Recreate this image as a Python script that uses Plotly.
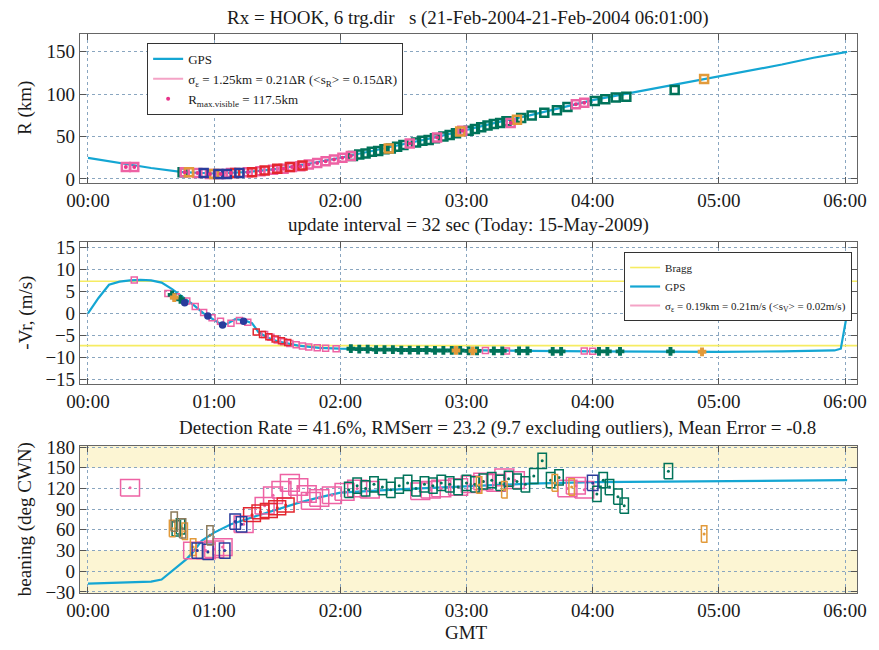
import plotly.graph_objects as go

# ---------------- data ----------------
HOUR_TICKS = [0, 60, 120, 180, 240, 300, 360]
HOUR_LABELS = ["00:00", "01:00", "02:00", "03:00", "04:00", "05:00", "06:00"]

# GPS tracks (time in minutes after 00:00)
GPS_T_R = [0, 15, 30, 45, 55, 60, 75, 90, 105, 120, 135, 150, 165, 180, 195, 210, 225, 240, 255, 270, 285, 300, 315, 330, 345, 361]
GPS_R = [25, 19, 13, 8, 6.5, 6.5, 8, 12, 18, 25, 33, 41, 49, 58, 67, 75, 84, 93, 100, 107, 114, 121, 128, 135, 143, 150]

GPS_T_V = [0, 5, 10, 15, 20, 25, 30, 35, 40, 45, 50, 55, 60, 63, 66, 70, 74, 78, 81, 85, 90, 100, 110, 120, 150, 180, 210, 240, 270, 300, 330, 355, 358, 361]
GPS_V = [0, 3.5, 6.5, 7.2, 7.5, 7.6, 7.5, 7.0, 5.5, 3.8, 2.0, 0, -1.5, -2.4, -2.4, -1.3, -1.5, -2.2, -4.2, -5.4, -6.3, -7.3, -7.8, -8.0, -8.2, -8.4, -8.5, -8.6, -8.7, -8.7, -8.6, -8.4, -8.0, 0]

GPS_T_B = [0, 15, 30, 35, 40, 43, 47, 50, 54, 60, 68, 80, 90, 100, 110, 120, 150, 180, 210, 240, 300, 361]
GPS_B = [-18, -16, -15, -12, 0, 8, 18, 28, 44, 56, 68, 80, 90, 99, 107, 114, 119, 123, 127, 129, 131, 132]

BRAGG = 7.3

# Range detections
R_PINK_T = [18, 22, 46, 52, 58, 63, 68, 76, 82, 88, 93, 97, 101, 105, 109, 113, 117, 121, 125, 153, 166, 178, 201, 232, 236]
R_PINK = [14, 14, 8, 7, 6, 6, 7, 8, 9, 11, 12, 14, 15, 17, 19, 21, 23, 25, 27, 42, 49, 57, 66, 88, 90]
R_RED_T = [70, 78, 84, 90, 96, 102]
R_RED = [7, 8, 10, 12, 14, 16]
R_GREEN_T = [45, 126, 129, 132, 135, 138, 141, 144, 147, 150, 156, 159, 162, 165, 169, 172, 175, 181, 184, 187, 190, 193, 196, 199, 206, 211, 217, 223, 228, 241, 246, 251, 256, 279]
R_GREEN = [8, 27, 29, 30, 32, 33, 35, 36, 38, 40, 43, 45, 46, 48, 50, 52, 54, 57, 59, 61, 63, 65, 66, 68, 72, 75, 78, 81, 85, 92, 94, 96, 97, 105]
R_ORANGE_T = [48, 60, 143, 177, 204, 293]
R_ORANGE = [8, 6, 36, 56, 70, 118]
R_BLUE_T = [55, 62, 66, 72]
R_BLUE = [7, 6, 6, 7]

# Velocity detections
V_PINK_T = [22, 38, 42, 47, 51, 55, 59, 63, 68, 72, 76, 84, 87, 90, 93, 96, 99, 102, 105, 109, 113, 118, 189, 199, 236, 240]
V_PINK = [7.6, 4.5, 3.8, 2.8, 1.6, 0.2, -1.0, -1.8, -2.2, -1.6, -2.0, -4.8, -5.4, -6.0, -6.4, -6.8, -7.1, -7.4, -7.6, -7.8, -7.9, -8.0, -8.4, -8.5, -8.5, -8.6]
V_RED_T = [80, 83, 86, 89, 92, 95]
V_RED = [-4.2, -4.8, -5.3, -5.8, -6.2, -6.6]
V_GREEN_T = [40, 44, 125, 129, 133, 137, 141, 145, 149, 153, 157, 161, 165, 169, 173, 177, 181, 185, 193, 197, 205, 209, 221, 225, 243, 247, 253, 277]
V_GREEN = [4.2, 3.2, -8.0, -8.1, -8.1, -8.2, -8.2, -8.2, -8.3, -8.3, -8.3, -8.3, -8.4, -8.4, -8.4, -8.4, -8.5, -8.5, -8.5, -8.5, -8.5, -8.5, -8.6, -8.6, -8.6, -8.6, -8.6, -8.6]
V_ORANGE_T = [41, 175, 183, 292]
V_ORANGE = [3.6, -8.4, -8.5, -8.7]
V_BLUE_T = [46, 57, 64, 74]
V_BLUE = [2.4, -0.6, -2.6, -1.8]

# Bearing detections (box centres)
B_PINK_T = [20, 50, 56, 60, 64, 74, 84, 88, 92, 96, 100, 104, 106, 110, 116, 122, 128, 134, 158, 163, 168, 176, 182, 188, 194, 198, 203, 228, 232, 236]
B_PINK = [121, 30, 30, 32, 35, 68, 95, 110, 118, 128, 122, 112, 102, 106, 110, 115, 120, 118, 116, 118, 120, 122, 126, 130, 128, 136, 132, 120, 124, 118]
B_RED_T = [78, 82, 86, 90, 94]
B_RED = [82, 86, 88, 92, 96]
B_GREEN_T = [42, 44, 124, 128, 132, 136, 140, 144, 148, 152, 156, 160, 164, 168, 172, 176, 180, 184, 188, 192, 196, 200, 204, 208, 212, 216, 220, 224, 242, 245, 248, 252, 255, 276]
B_GREEN = [62, 65, 118, 124, 120, 126, 122, 118, 124, 128, 120, 126, 124, 128, 126, 122, 128, 126, 130, 132, 128, 134, 130, 126, 138, 160, 132, 136, 112, 132, 122, 108, 95, 145]
B_ORANGE_T = [40, 46, 50, 186, 198, 222, 230, 293]
B_ORANGE = [62, 58, 35, 125, 118, 128, 122, 54]
B_BLUE_T = [52, 57, 65, 70, 73, 240]
B_BLUE = [30, 28, 30, 72, 68, 128]
B_BROWN_T = [41, 45, 58]
B_BROWN = [72, 62, 52]

# ---------------- style ----------------
FONT = "Liberation Serif"
CYAN = "#14A6D3"
PINK_LINE = "#F4A3C6"
HOTPINK = "#E8348A"
PINK_BOX = "#EE62A4"
RED = "#E3262E"
GREEN = "#00735A"
ORANGE = "#E29A3A"
BLUE = "#2A3C9C"
BROWN = "#8C7A5A"
YELLOW = "#F6EC62"
BAND = "#FCF5D3"
GRID = "#8AA6C0"
XR = [-3.8, 365.7]

fig = go.Figure()


def boxes(ts, bs, dt, db):
    xs, ys = [], []
    for t, b in zip(ts, bs):
        xs += [t - dt, t + dt, t + dt, t - dt, t - dt, None]
        ys += [b - db, b - db, b + db, b + db, b - db, None]
    return xs, ys


# ----- panel 1: range -----
fig.add_trace(go.Scatter(x=GPS_T_R, y=GPS_R, mode="lines", line=dict(color=CYAN, width=2.2),
                         name="GPS", legend="legend", xaxis="x", yaxis="y"))
for ts, vs, col in [(R_GREEN_T, R_GREEN, GREEN), (R_PINK_T, R_PINK, PINK_BOX), (R_RED_T, R_RED, RED),
                    (R_ORANGE_T, R_ORANGE, ORANGE), (R_BLUE_T, R_BLUE, BLUE)]:
    fig.add_trace(go.Scatter(x=ts, y=vs, mode="markers", showlegend=False, xaxis="x", yaxis="y",
                             marker=dict(symbol="square-open", size=8, color=col, line=dict(width=2.5, color=col))))
fig.add_trace(go.Scatter(x=[None], y=[None], mode="lines", line=dict(color=PINK_LINE, width=2),
                         name="σ<sub>ε</sub> = 1.25km = 0.21ΔR (&lt;s<sub>R</sub>&gt; = 0.15ΔR)",
                         legend="legend", xaxis="x", yaxis="y"))
fig.add_trace(go.Scatter(x=R_PINK_T, y=R_PINK, mode="markers", marker=dict(symbol="circle", size=4, color=HOTPINK),
                         name="R<sub>max.visible</sub> = 117.5km", legend="legend", xaxis="x", yaxis="y"))

# ----- panel 2: velocity -----
fig.add_trace(go.Scatter(x=[XR[0], XR[1], None, XR[0], XR[1]], y=[BRAGG, BRAGG, None, -BRAGG, -BRAGG],
                         mode="lines", line=dict(color=YELLOW, width=1.6), name="Bragg",
                         legend="legend2", xaxis="x2", yaxis="y2"))
fig.add_trace(go.Scatter(x=GPS_T_V, y=GPS_V, mode="lines", line=dict(color=CYAN, width=2.2),
                         name="GPS", legend="legend2", xaxis="x2", yaxis="y2"))
for ts, vs, col, sym in [(V_PINK_T, V_PINK, PINK_BOX, "square-open"), (V_RED_T, V_RED, RED, "square-open"),
                         (V_GREEN_T, V_GREEN, GREEN, "cross"), (V_ORANGE_T, V_ORANGE, ORANGE, "cross"),
                         (V_BLUE_T, V_BLUE, BLUE, "circle")]:
    fig.add_trace(go.Scatter(x=ts, y=vs, mode="markers", showlegend=False, xaxis="x2", yaxis="y2",
                             marker=dict(symbol=sym, size=6, color=col, line=dict(width=1.5, color=col))))
fig.add_trace(go.Scatter(x=[None], y=[None], mode="lines", line=dict(color=PINK_LINE, width=2),
                         name="σ<sub>ε</sub> = 0.19km = 0.21m/s (&lt;s<sub>V</sub>&gt; = 0.02m/s)",
                         legend="legend2", xaxis="x2", yaxis="y2"))

# ----- panel 3: bearing -----
fig.add_trace(go.Scatter(x=GPS_T_B, y=GPS_B, mode="lines", line=dict(color=CYAN, width=2.2),
                         showlegend=False, xaxis="x3", yaxis="y3"))
for ts, vs, col, dt, db in [(B_PINK_T, B_PINK, PINK_BOX, 4.5, 12), (B_GREEN_T, B_GREEN, GREEN, 2.0, 11),
                            (B_RED_T, B_RED, RED, 4.0, 10), (B_ORANGE_T, B_ORANGE, ORANGE, 1.3, 12),
                            (B_BLUE_T, B_BLUE, BLUE, 2.5, 11), (B_BROWN_T, B_BROWN, BROWN, 1.5, 14)]:
    xs, ys = boxes(ts, vs, dt, db)
    fig.add_trace(go.Scatter(x=xs, y=ys, mode="lines", line=dict(color=col, width=1.5),
                             showlegend=False, xaxis="x3", yaxis="y3"))
    fig.add_trace(go.Scatter(x=ts, y=vs, mode="markers", marker=dict(size=3, color=col),
                             showlegend=False, xaxis="x3", yaxis="y3"))

# ----- axes -----
tickfont = dict(family=FONT, size=19, color="#1a1a1a")
xcommon = dict(range=XR, tickvals=HOUR_TICKS, ticktext=HOUR_LABELS, ticks="inside", ticklen=6,
               tickcolor="#555", showgrid=True, gridcolor=GRID, griddash="dot", gridwidth=1,
               showline=True, linecolor="#666", linewidth=1.2, mirror="ticks", zeroline=False,
               tickfont=tickfont, domain=[0, 1])
ycommon = dict(ticks="inside", ticklen=6, tickcolor="#555", showgrid=True, gridcolor=GRID,
               griddash="dot", gridwidth=1, showline=True, linecolor="#666", linewidth=1.2,
               mirror="ticks", zeroline=False, tickfont=tickfont)

fig.update_layout(
    width=879, height=650,
    margin=dict(l=80, r=12, t=34, b=57),
    paper_bgcolor="white", plot_bgcolor="white",
    font=dict(family=FONT, size=19, color="#1a1a1a"),
    xaxis=dict(xcommon, anchor="y"),
    xaxis2=dict(xcommon, anchor="y2"),
    xaxis3=dict(xcommon, anchor="y3"),
    yaxis=dict(ycommon, domain=[0.7335, 1.0], range=[-4.7, 171], tickvals=[0, 50, 100, 150], anchor="x"),
    yaxis2=dict(ycommon, domain=[0.3739, 0.6279], range=[-16, 16.2],
                tickvals=[-15, -10, -5, 0, 5, 10, 15], anchor="x2"),
    yaxis3=dict(ycommon, domain=[0.0, 0.263], range=[-31.5, 181.5],
                tickvals=[-30, 0, 30, 60, 90, 120, 150, 180], anchor="x3"),
    legend=dict(x=0.0864, y=0.984, xanchor="left", yanchor="top", bgcolor="white",
                bordercolor="#333", borderwidth=1, font=dict(family=FONT, size=13, color="#1a1a1a"),
                tracegroupgap=0),
    legend2=dict(x=0.9937, y=0.61, xanchor="right", yanchor="top", bgcolor="white",
                 bordercolor="#333", borderwidth=1, font=dict(family=FONT, size=11, color="#1a1a1a"),
                 tracegroupgap=0),
    showlegend=True,
    shapes=[
        dict(type="rect", xref="x3 domain", yref="y3", x0=0, x1=1, y0=150, y1=181.5,
             fillcolor=BAND, line=dict(width=0), layer="below"),
        dict(type="rect", xref="x3 domain", yref="y3", x0=0, x1=1, y0=-31.5, y1=30,
             fillcolor=BAND, line=dict(width=0), layer="below"),
    ],
)

ann_font = dict(family=FONT, size=19, color="#1a1a1a")
annotations = [
    dict(text="Rx = HOOK, 6 trg.dir   s (21-Feb-2004-21-Feb-2004 06:01:00)", x=0.4994, y=1.0286),
    dict(text="update interval = 32 sec (Today: 15-May-2009)", x=0.5006, y=0.6583),
    dict(text="Detection Rate = 41.6%, RMSerr = 23.2 (9.7 excluding outliers), Mean Error = -0.8", x=0.537, y=0.2952),
    dict(text="GMT", x=0.497, y=-0.071),
]
for a in annotations:
    fig.add_annotation(xref="paper", yref="paper", showarrow=False, xanchor="center", yanchor="middle",
                       font=ann_font, **a)
for text, y in [("R (km)", 0.867), ("-Vr, (m/s)", 0.501), ("beaning (deg CWN)", 0.1315)]:
    fig.add_annotation(xref="paper", yref="paper", x=-0.0699, y=y, text=text, textangle=-90,
                       showarrow=False, xanchor="center", yanchor="middle", font=ann_font)

fig.write_html("out.html", config={"displayModeBar": False},
               post_script="document.body.style.margin='0';document.body.style.overflow='hidden';")
